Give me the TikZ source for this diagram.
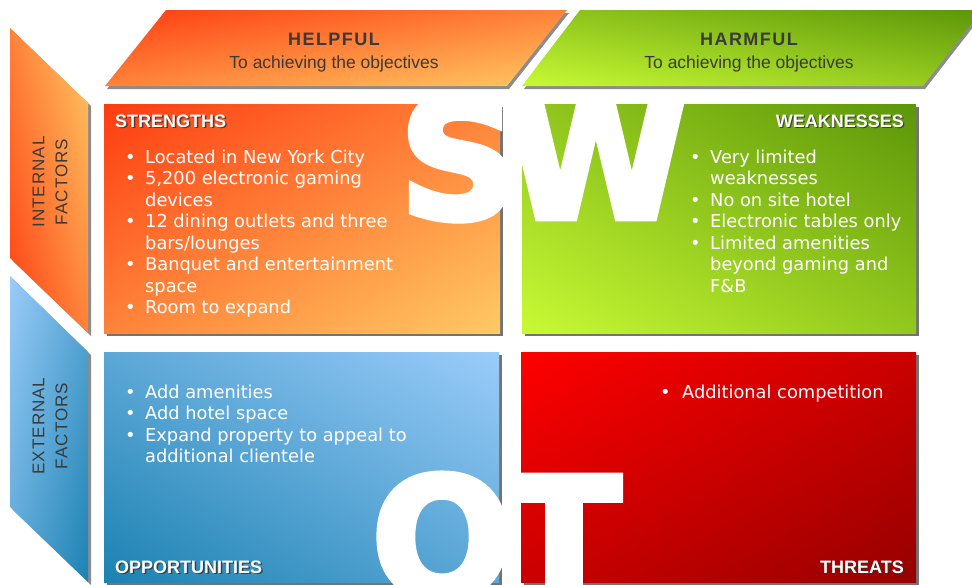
\documentclass[tikz,border=0pt]{standalone}
\usepackage{fontspec}
\setmainfont{Liberation Sans}
\newfontfamily\bodyfont{DejaVu Sans}
\newfontfamily\letterfont{DejaVu Sans}[UprightFont={* Bold}, FakeBold=4]
\usetikzlibrary{shadows,shadings}

\definecolor{orA}{HTML}{FF3C10}
\definecolor{orB}{HTML}{FFCA64}
\definecolor{grA}{HTML}{5C9608}
\definecolor{grB}{HTML}{C8FA34}
\definecolor{blA}{HTML}{9ACCFA}
\definecolor{blB}{HTML}{1C82B2}
\definecolor{rdA}{HTML}{FF0000}
\definecolor{rdB}{HTML}{960000}
\definecolor{headtext}{HTML}{3A3A3A}

\begin{document}
\begin{tikzpicture}[x=1pt,y=-1pt,
  diag/.style 2 args={upper left=#1, lower right=#2,
    upper right=#1!50!#2, lower left=#1!50!#2},
  antidiag/.style 2 args={upper right=#1, lower left=#2,
    upper left=#1!50!#2, lower right=#1!50!#2},
  quadbox/.style={shade, inner sep=0pt, outer sep=0pt, anchor=north west,
    drop shadow={shadow xshift=3pt, shadow yshift=-3pt, fill=black, opacity=0.55}},
  bannershadow/.style={fill=black, opacity=0.45},
  bigletter/.style={text=white, inner sep=0pt, anchor=base,
    font=\letterfont\fontsize{166}{166}\selectfont},
  bullets/.style={text=white, inner sep=0pt, anchor=base west, align=left,
    font=\bodyfont\fontsize{17.8}{21.5}\selectfont},
  tag/.style={text=white, inner sep=0pt,
    font=\bfseries\fontsize{18}{18}\selectfont},
  tagshade/.style={text=black!80, opacity=0.8, inner sep=0pt,
    font=\bfseries\fontsize{18}{18}\selectfont},
  headtitle/.style={text=headtext, inner sep=0pt, anchor=base,
    font=\bfseries\fontsize{18}{18}\selectfont\addfontfeatures{LetterSpace=8}},
  headsub/.style={text=headtext, inner sep=0pt, anchor=base,
    font=\fontsize{17.5}{17.5}\selectfont},
  sidetitle/.style={text=headtext, inner sep=0pt, rotate=90, align=center,
    font=\fontsize{17}{23}\selectfont\addfontfeatures{LetterSpace=6}}
]
\useasboundingbox (0,0) rectangle (972,584);

% column banners
\fill[bannershadow] (168,13) -- (569,13) -- (509,89) -- (107,89) -- cycle;
\shade[diag={orA}{orB}] (166,10) -- (567,10) -- (507,86) -- (105,86) -- cycle;
\fill[bannershadow] (582,13) -- (984,13) -- (925,89) -- (524,89) -- cycle;
\shade[antidiag={grA}{grB}] (580,10) -- (982,10) -- (923,86) -- (522,86) -- cycle;

% row banners
\fill[bannershadow] (13,31) -- (91,106) -- (91,336) -- (13,261) -- cycle;
\shade[antidiag={orB}{orA}] (10,28) -- (88,103) -- (88,333) -- (10,258) -- cycle;
\fill[bannershadow] (13,279) -- (91,355) -- (91,585) -- (13,510) -- cycle;
\shade[diag={blA}{blB}] (10,276) -- (88,352) -- (88,582) -- (10,507) -- cycle;

\node[headtitle] (helpful) at (334,45) {HELPFUL};
\node[headsub] (helpfulsub) at (334,68) {To achieving the objectives};
\node[headtitle] (harmful) at (749,45) {HARMFUL};
\node[headsub] (harmfulsub) at (749,68) {To achieving the objectives};
\node[sidetitle] (internal) at (50,182) {INTERNAL\\FACTORS};
\node[sidetitle] (external) at (50,426) {EXTERNAL\\FACTORS};

% quadrants
\node[quadbox, diag={orA}{orB}, minimum width=396pt, minimum height=229pt]
  (strengths) at (104,104) {};
\node[quadbox, antidiag={grA}{grB}, minimum width=394pt, minimum height=229pt]
  (weaknesses) at (522,104) {};
\node[quadbox, antidiag={blA}{blB}, minimum width=395pt, minimum height=230pt]
  (opportunities) at (104,352) {};
\node[quadbox, diag={rdA}{rdB}, minimum width=395pt, minimum height=230pt]
  (threats) at (521,352) {};

% large initials
\node[bigletter] (bigS) at (459,218) {S};
\node[bigletter] (bigW) at (596,218) {W};
\node[bigletter] (bigO) at (442,597) {O};
\node[bigletter] (bigT) at (564,597) {T};

% quadrant titles
\node[tagshade, anchor=base west] at (116.3,128.3) {STRENGTHS};
\node[tag, anchor=base west] (tagS) at (115,127) {STRENGTHS};
\node[tagshade, anchor=base east] at (905.3,128.3) {WEAKNESSES};
\node[tag, anchor=base east] (tagW) at (904,127) {WEAKNESSES};
\node[tagshade, anchor=base west] at (116.3,574.3) {OPPORTUNITIES};
\node[tag, anchor=base west] (tagO) at (115,573) {OPPORTUNITIES};
\node[tagshade, anchor=base east] at (905.3,574.3) {THREATS};
\node[tag, anchor=base east] (tagT) at (904,573) {THREATS};

% bullet lists
\node[bullets] (listS) at (125,163) {\begin{tabular}[t]{@{}p{20pt}@{}l@{}}
• & Located in New York City\\
• & 5,200 electronic gaming\\
  & devices\\
• & 12 dining outlets and three\\
  & bars/lounges\\
• & Banquet and entertainment\\
  & space\\
• & Room to expand
\end{tabular}};
\node[bullets] (listW) at (690,163) {\begin{tabular}[t]{@{}p{20pt}@{}l@{}}
• & Very limited\\
  & weaknesses\\
• & No on site hotel\\
• & Electronic tables only\\
• & Limited amenities\\
  & beyond gaming and\\
  & F\&B
\end{tabular}};
\node[bullets] (listO) at (125,398) {\begin{tabular}[t]{@{}p{20pt}@{}l@{}}
• & Add amenities\\
• & Add hotel space\\
• & Expand property to appeal to\\
  & additional clientele
\end{tabular}};
\node[bullets] (listT) at (660,398) {\begin{tabular}[t]{@{}p{22pt}@{}l@{}}
• & Additional competition
\end{tabular}};
\end{tikzpicture}
\end{document}
